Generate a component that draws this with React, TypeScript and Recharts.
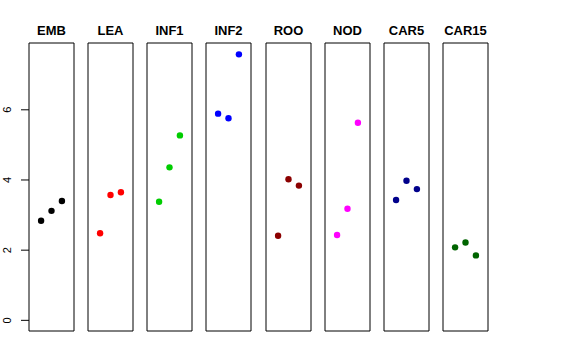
import React from "react";
import { ScatterChart, Scatter, XAxis, YAxis, ReferenceArea } from "recharts";

// panel names and point colours
const categories = ["EMB", "LEA", "INF1", "INF2", "ROO", "NOD", "CAR5", "CAR15"];
const colors = ["#000000", "#FF0000", "#00CD00", "#0000FF", "#8B0000", "#FF00FF", "#00008B", "#006400"];

// three replicates per panel
const replicates = [1, 2, 3];
const emb = [2.84, 3.12, 3.4];
const lea = [2.48, 3.57, 3.65];
const inf1 = [3.38, 4.36, 5.27];
const inf2 = [5.89, 5.76, 7.58];
const roo = [2.41, 4.02, 3.84];
const nod = [2.43, 3.18, 5.63];
const car5 = [3.43, 3.98, 3.74];
const car15 = [2.08, 2.22, 1.85];
const yTicks = [0, 2, 4, 6];

const series = [emb, lea, inf1, inf2, roo, nod, car5, car15];

const X_DOMAIN: [number, number] = [-0.16, 4.16];
const Y_DOMAIN: [number, number] = [-0.304, 7.904];

const PANEL_LEFT = 29;
const PANEL_STEP = 59.14;
const PANEL_W = 45;
const PANEL_TOP = 43;
const PANEL_H = 288;
const AXIS_W = 29;
const FONT = "'Liberation Sans', Arial, Helvetica, sans-serif";

const renderTick = (props: any) => {
  const { x, y, payload } = props;
  const cx = x - 14;
  return (
    <text
      x={cx}
      y={y}
      transform={`rotate(-90 ${cx} ${y})`}
      textAnchor="middle"
      dominantBaseline="central"
      fontSize={11}
      fontFamily={FONT}
      fill="#000"
    >
      {payload.value}
    </text>
  );
};

function Panel({ idx }: { idx: number }) {
  const first = idx === 0;
  const left = PANEL_LEFT + idx * PANEL_STEP;
  const data = replicates.map((r, i) => ({ x: r, y: series[idx][i] }));
  const color = colors[idx];
  const w = PANEL_W + 2 + (first ? AXIS_W - 1 : 0);
  return (
    <>
      <div
        style={{
          position: "absolute",
          left: left - 20,
          width: PANEL_W + 40,
          top: 24.5,
          textAlign: "center",
          fontFamily: FONT,
          fontWeight: "bold",
          fontSize: 12,
          lineHeight: "12px",
          transform: "scaleX(1.08)",
        }}
      >
        {categories[idx]}
      </div>
      <div style={{ position: "absolute", left: first ? 0 : left - 1, top: PANEL_TOP - 1 }}>
        <ScatterChart
          width={w}
          height={PANEL_H + 2}
          margin={{ top: 1, right: 1, bottom: 1, left: first ? 0 : 1 }}
        >
          <XAxis type="number" dataKey="x" domain={X_DOMAIN} hide />
          <YAxis
            type="number"
            dataKey="y"
            domain={Y_DOMAIN}
            ticks={yTicks}
            hide={!first}
            width={AXIS_W}
            axisLine={false}
            tickLine={{ stroke: "#000" }}
            tickSize={8}
            tickMargin={0}
            tick={renderTick}
          />
          <ReferenceArea
            x1={X_DOMAIN[0]}
            x2={X_DOMAIN[1]}
            y1={Y_DOMAIN[0]}
            y2={Y_DOMAIN[1]}
            fill="none"
            fillOpacity={0}
            stroke="#000"
            strokeWidth={1}
            strokeOpacity={1}
          />
          <Scatter
            data={data}
            isAnimationActive={false}
            shape={(p: any) => <circle cx={p.cx} cy={p.cy} r={3.2} fill={color} />}
          />
        </ScatterChart>
      </div>
    </>
  );
}

export default function App() {
  return (
    <div
      style={{
        position: "absolute",
        left: 0,
        top: 0,
        width: 576,
        height: 360,
        background: "#fff",
        overflow: "hidden",
      }}
    >
      {categories.map((_, i) => (
        <Panel key={categories[i]} idx={i} />
      ))}
    </div>
  );
}
